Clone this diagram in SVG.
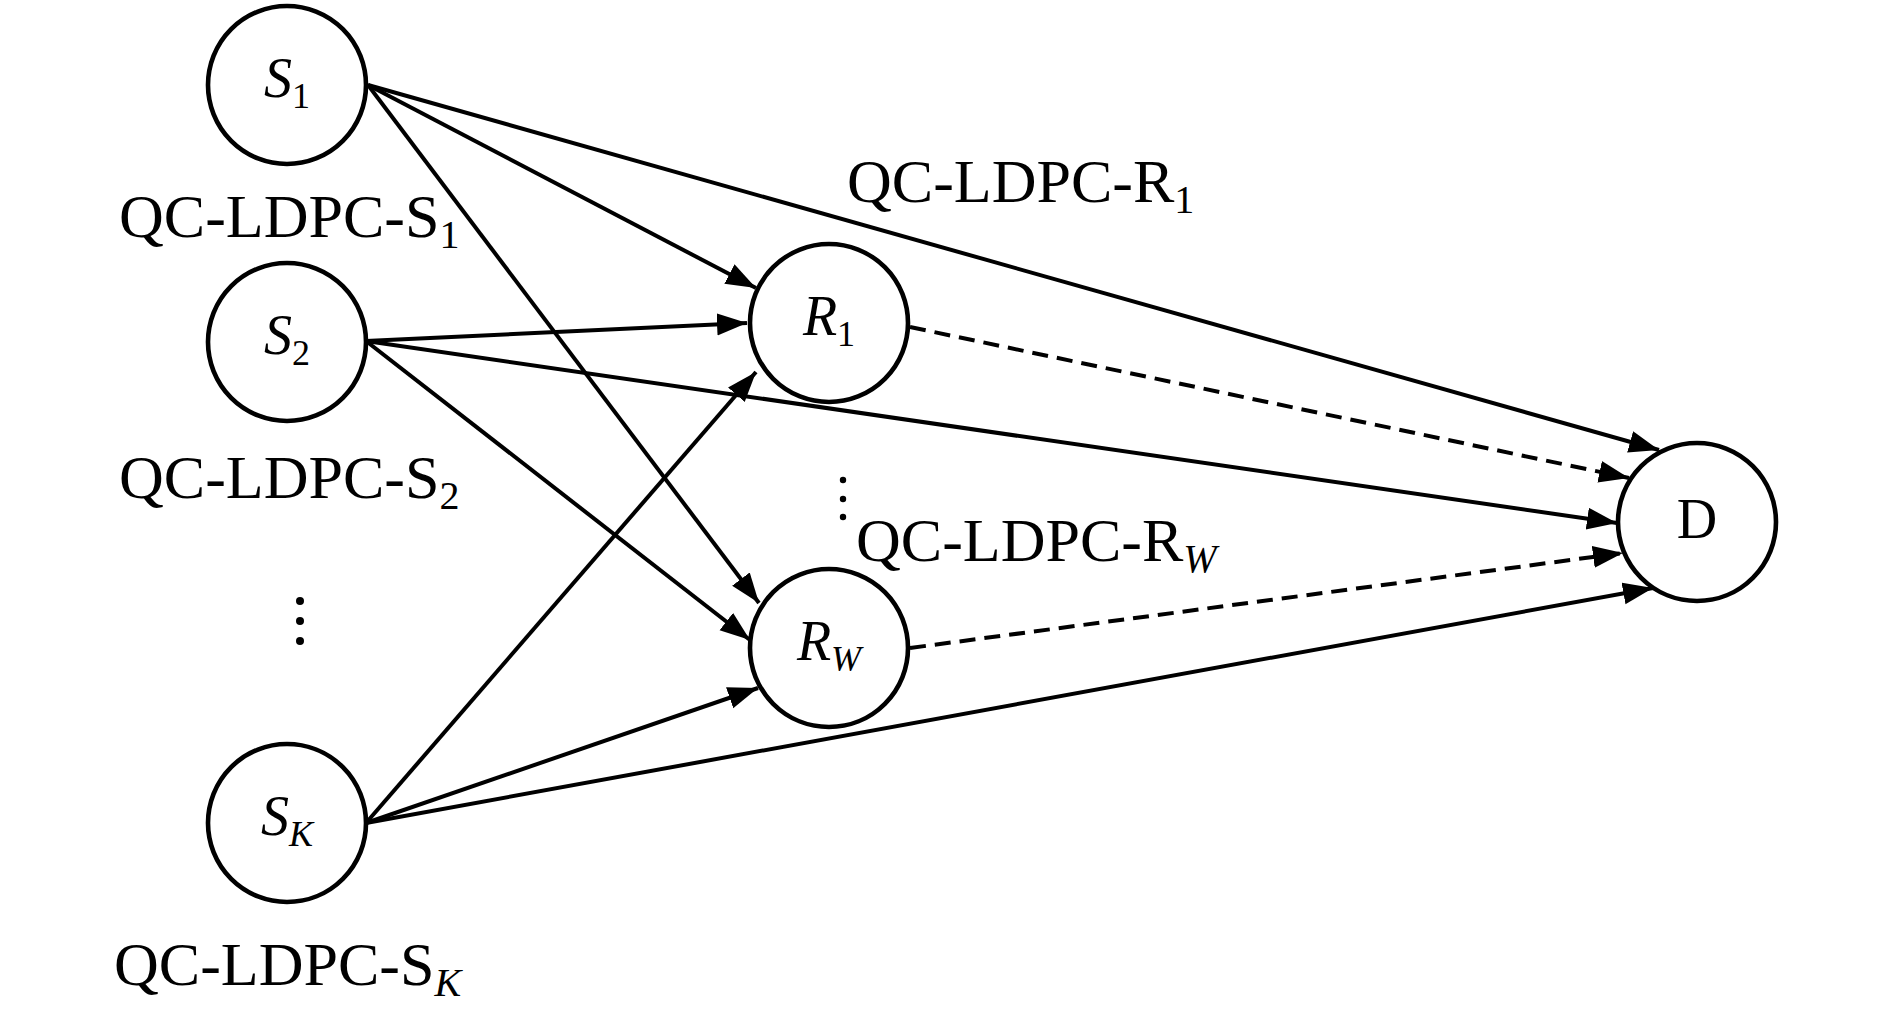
<svg xmlns="http://www.w3.org/2000/svg" width="1890" height="1016" viewBox="0 0 1890 1016">
<style>
.node{fill:#fff;stroke:#000;stroke-width:4.6}
.e{stroke:#000;stroke-width:4;fill:none;marker-end:url(#ah)}
.d{stroke-dasharray:16 9}
.t{font-family:"Liberation Serif","Times New Roman",serif;font-size:62px;fill:#000}
.n{font-family:"Liberation Serif","Times New Roman",serif;font-size:56px;fill:#000}
.it{font-style:italic}
.dot{fill:#000}
</style>
<defs>
<marker id="ah" markerUnits="userSpaceOnUse" markerWidth="32" markerHeight="24" refX="30" refY="11" orient="auto">
<path d="M0,0 L30,11 L0,22 z" fill="#000"/>
</marker>
</defs>
<rect width="1890" height="1016" fill="#fff"/>
<g id="connectors">
<line class="e" x1="368" y1="85" x2="1659" y2="450"/>
<line class="e" x1="368" y1="85" x2="756" y2="288"/>
<line class="e" x1="368" y1="85" x2="759" y2="603"/>
<line class="e" x1="366" y1="341" x2="747" y2="323"/>
<line class="e" x1="366" y1="341" x2="1617" y2="523"/>
<line class="e" x1="366" y1="341" x2="750" y2="640"/>
<line class="e" x1="366" y1="823" x2="756" y2="372"/>
<line class="e" x1="366" y1="823" x2="758" y2="688"/>
<line class="e" x1="366" y1="823" x2="1653" y2="588"/>
<line class="e d" x1="910" y1="327" x2="1629" y2="478"/>
<line class="e d" x1="910" y1="648" x2="1623" y2="553"/>
</g>
<g id="S1">
<circle class="node" cx="287" cy="85" r="79"/>
<text class="n" x="287" y="97" text-anchor="middle"><tspan class="it">S</tspan><tspan font-size="36" dy="11">1</tspan></text>
</g>
<g id="S2">
<circle class="node" cx="287" cy="342" r="79"/>
<text class="n" x="287" y="354" text-anchor="middle"><tspan class="it">S</tspan><tspan font-size="36" dy="11">2</tspan></text>
</g>
<g id="SK">
<circle class="node" cx="287" cy="823" r="79"/>
<text class="n" x="287" y="835" text-anchor="middle"><tspan class="it">S</tspan><tspan class="it" font-size="36" dy="11">K</tspan></text>
</g>
<g id="R1">
<circle class="node" cx="829" cy="323" r="79"/>
<text class="n" x="829" y="335" text-anchor="middle"><tspan class="it">R</tspan><tspan font-size="36" dy="11">1</tspan></text>
</g>
<g id="RW">
<circle class="node" cx="829" cy="648" r="79"/>
<text class="n" x="829" y="660" text-anchor="middle"><tspan class="it">R</tspan><tspan class="it" font-size="36" dy="11">W</tspan></text>
</g>
<g id="D">
<circle class="node" cx="1697" cy="522" r="79"/>
<text class="n" x="1697" y="538" text-anchor="middle">D</text>
</g>
<g id="labels">
<text class="t" x="119" y="237">QC-LDPC-S<tspan font-size="40" dy="11">1</tspan></text>
<text class="t" x="119" y="498">QC-LDPC-S<tspan font-size="40" dy="11">2</tspan></text>
<text class="t" x="114" y="985">QC-LDPC-S<tspan class="it" font-size="40" dy="11">K</tspan></text>
<text class="t" x="847" y="202">QC-LDPC-R<tspan font-size="40" dy="11">1</tspan></text>
<text class="t" x="856" y="561">QC-LDPC-R<tspan class="it" font-size="40" dy="11">W</tspan></text>
</g>
<g id="ellipses">
<circle class="dot" cx="300" cy="601" r="4"/>
<circle class="dot" cx="300" cy="621" r="4"/>
<circle class="dot" cx="300" cy="641" r="4"/>
<circle class="dot" cx="843" cy="480" r="3.2"/>
<circle class="dot" cx="843" cy="499" r="3.2"/>
<circle class="dot" cx="843" cy="517" r="3.2"/>
</g>
</svg>
